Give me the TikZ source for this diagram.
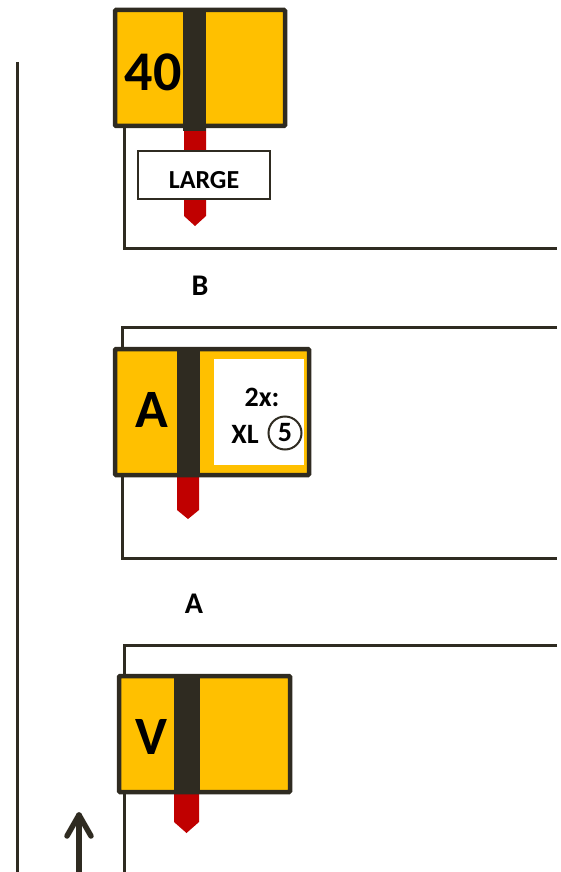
\documentclass[tikz,border=0pt]{standalone}
\usepackage{fontspec}
\setmainfont{Carlito}
\definecolor{dk}{HTML}{2F2B21}
\definecolor{yl}{HTML}{FFC000}
\definecolor{rd}{HTML}{C00000}
\begin{document}
\begin{tikzpicture}[x=1pt,y=-1pt,
  rail/.style={draw=dk,line width=3pt},
  signbox/.style={draw=dk,fill=yl,line width=4.5pt,rounded corners=1pt},
  stripe/.style={fill=dk},
  redpost/.style={fill=rd},
  lbl/.style={inner sep=0pt,font=\bfseries}]
\useasboundingbox (0,0) rectangle (561,872);
% rails
\draw[rail] (17,62) -- (17,872);
\draw[rail] (124,127) -- (124,248) -- (557,248);
\draw[rail] (557,327) -- (122,327) -- (122,558) -- (557,558);
\draw[rail] (557,645) -- (124,645) -- (124,872);
% arrow
\draw[dk,line width=5.5pt,line cap=round,line join=round] (79,874) -- (79,815);
\draw[dk,line width=5.5pt,line cap=round,line join=round] (67,836) -- (79,815) -- (91,836);
% sign 1
\fill[redpost] (184,127) -- (184,216) -- (195,226) -- (206,216) -- (206,127) -- cycle;
\draw[signbox] (115,10) rectangle (285,126);
\fill[stripe] (183,8) rectangle (206,131);
\node[lbl,font=\bfseries\fontsize{56}{60}\selectfont] (t40) at (153,72) {40};
\node[draw=dk,fill=white,line width=2pt,minimum width=132pt,minimum height=48pt,inner sep=0pt] (large) at (204,175) {};
\node[lbl,font=\bfseries\fontsize{26}{28}\selectfont] (largetxt) at (204,180) {LARGE};
% B label
\node[lbl,font=\bfseries\fontsize{30}{32}\selectfont] (labB) at (200,286) {B};
% sign A
\fill[redpost] (177,474) -- (177,510) -- (188,519) -- (199,510) -- (199,474) -- cycle;
\draw[signbox] (115,349) rectangle (309,475);
\fill[white] (214,359) rectangle (304,465);
\fill[stripe] (177,347) rectangle (200,477);
\node[lbl,font=\bfseries\fontsize{54}{56}\selectfont] (tA) at (152,410) {A};
\node[lbl,font=\bfseries\fontsize{28}{30}\selectfont] (t2x) at (262,397) {2x:};
\node[lbl,font=\bfseries\fontsize{28}{30}\selectfont] (tXL) at (245,434) {XL};
\node[draw=dk,line width=2pt,circle,minimum size=33pt,inner sep=0pt,font=\bfseries\fontsize{28}{30}\selectfont] (t5) at (285,433) {5};
% A label
\node[lbl,font=\bfseries\fontsize{30}{32}\selectfont] (labA) at (194,604) {A};
% sign V
\fill[redpost] (174,792) -- (174,822) -- (186.5,833) -- (199,822) -- (199,792) -- cycle;
\draw[signbox] (119,676) rectangle (290,792);
\fill[stripe] (174,674) rectangle (200,794);
\node[lbl,font=\bfseries\fontsize{54}{56}\selectfont] (tV) at (151,737) {V};
\end{tikzpicture}
\end{document}
